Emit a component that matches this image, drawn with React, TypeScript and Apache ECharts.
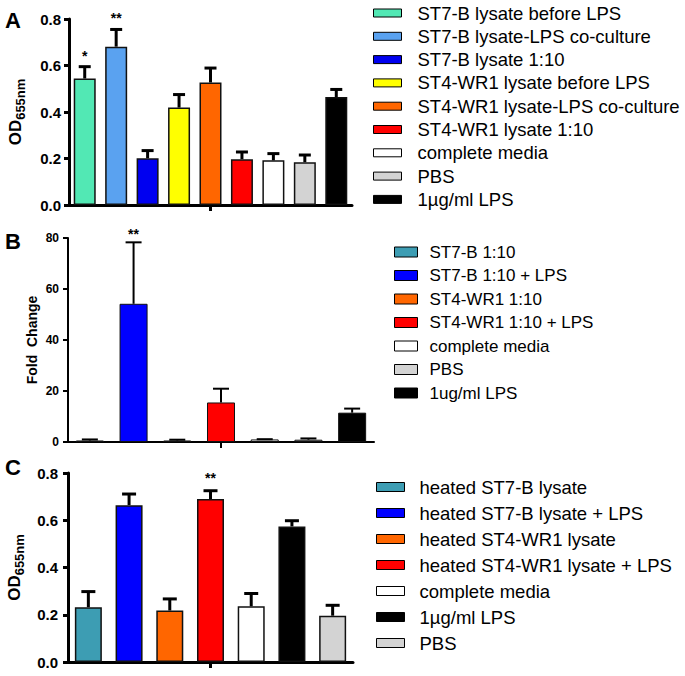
import React, { useEffect, useRef } from "react";
import * as echarts from "echarts";

const FONT = 'Arial, "Liberation Sans", Helvetica, sans-serif';

// ---------- Panel A ----------
const catsA = [
  "ST7-B lysate before LPS",
  "ST7-B lysate-LPS co-culture",
  "ST7-B lysate 1:10",
  "ST4-WR1 lysate before LPS",
  "ST4-WR1 lysate-LPS co-culture",
  "ST4-WR1 lysate 1:10",
  "complete media",
  "PBS",
  "1µg/ml LPS",
];
const meanA = [0.544, 0.681, 0.201, 0.419, 0.527, 0.197, 0.192, 0.184, 0.464];
const errA = [0.051, 0.074, 0.033, 0.056, 0.062, 0.031, 0.029, 0.031, 0.033];
const starA = ["*", "**", "", "", "", "", "", "", ""];
const colorA = ["#52e8b4", "#5aa2f0", "#0000f0", "#ffff00", "#ff6600", "#ff0000", "#ffffff", "#d3d3d3", "#000000"];
const ticksA = { min: 0, max: 0.8, interval: 0.2 };

// ---------- Panel B ----------
const catsB = [
  "ST7-B 1:10",
  "ST7-B 1:10 + LPS",
  "ST4-WR1 1:10",
  "ST4-WR1 1:10 + LPS",
  "complete media",
  "PBS",
  "1ug/ml LPS",
];
const meanB = [0.6, 54.2, 0.6, 15.5, 1.0, 0.9, 11.5];
const errB = [0.4, 24.1, 0.3, 5.4, 0.1, 0.5, 1.6];
const starB = ["", "**", "", "", "", "", ""];
const colorB = ["#3d9db3", "#0000ff", "#ff6600", "#ff0000", "#ffffff", "#cccccc", "#000000"];
const ticksB = { min: 0, max: 80, interval: 20 };

// ---------- Panel C ----------
const catsC = [
  "heated ST7-B lysate",
  "heated ST7-B lysate + LPS",
  "heated ST4-WR1 lysate",
  "heated ST4-WR1 lysate + LPS",
  "complete media",
  "1µg/ml LPS",
  "PBS",
];
const meanC = [0.232, 0.664, 0.218, 0.69, 0.236, 0.574, 0.196];
const errC = [0.066, 0.047, 0.049, 0.035, 0.054, 0.024, 0.044];
const starC = ["", "", "", "**", "", "", ""];
const colorC = ["#3d9db3", "#0000ff", "#ff6600", "#ff0000", "#ffffff", "#000000", "#d3d3d3"];
const ticksC = { min: 0, max: 0.8, interval: 0.2 };

type PanelCfg = {
  idx: number;
  letter: string;
  letterY: number;
  cats: string[];
  mean: number[];
  err: number[];
  star: string[];
  colors: string[];
  ticks: { min: number; max: number; interval: number };
  grid: { left: number; top: number; width: number; height: number };
  axisW: number;
  barW: number;
  barBorder: number;
  capW: number;
  errW: number;
  starGap: number;
  labelFont: number;
  labelWeight: string;
  labelMargin: number;
  decimals: number;
  name: string;
  nameGap: number;
  nameStyle: any;
  legend: {
    left: number;
    top: number;
    iw: number;
    ih: number;
    gap: number;
    font: number;
    pad: number;
  };
};

const odName = {
  rich: {
    a: { fontSize: 17, fontWeight: "bold", fontFamily: FONT, color: "#000", lineHeight: 24 },
    b: { fontSize: 13, fontWeight: "bold", fontFamily: FONT, color: "#000", lineHeight: 24, verticalAlign: "bottom" },
  },
};

const panels: PanelCfg[] = [
  {
    idx: 0,
    letter: "A",
    letterY: 20,
    cats: catsA,
    mean: meanA,
    err: errA,
    star: starA,
    colors: colorA,
    ticks: ticksA,
    grid: { left: 69, top: 19, width: 283, height: 186 },
    axisW: 3,
    barW: 22,
    barBorder: 1.5,
    capW: 12,
    errW: 3,
    starGap: 4,
    labelFont: 15,
    labelWeight: "bold",
    labelMargin: 8,
    decimals: 1,
    name: "{a|OD}{b|655nm}",
    nameGap: 42,
    nameStyle: odName,
    legend: { left: 373, top: 3, iw: 28, ih: 8, gap: 3.3, font: 18.5, pad: 11 },
  },
  {
    idx: 1,
    letter: "B",
    letterY: 241,
    cats: catsB,
    mean: meanB,
    err: errB,
    star: starB,
    colors: colorB,
    ticks: ticksB,
    grid: { left: 68, top: 238, width: 306, height: 204 },
    axisW: 2,
    barW: 28,
    barBorder: 1,
    capW: 16,
    errW: 2,
    starGap: 1,
    labelFont: 12,
    labelWeight: "bold",
    labelMargin: 9,
    decimals: 0,
    name: "Fold  Change",
    nameGap: 29,
    nameStyle: { fontSize: 14, fontWeight: "bold", fontFamily: FONT, color: "#000" },
    legend: { left: 394, top: 242, iw: 23, ih: 10, gap: 3.5, font: 17, pad: 7 },
  },
  {
    idx: 2,
    letter: "C",
    letterY: 467,
    cats: catsC,
    mean: meanC,
    err: errC,
    star: starC,
    colors: colorC,
    ticks: ticksC,
    grid: { left: 68, top: 473, width: 285, height: 189 },
    axisW: 3,
    barW: 27,
    barBorder: 1.5,
    capW: 14,
    errW: 3,
    starGap: 6,
    labelFont: 15,
    labelWeight: "bold",
    labelMargin: 10,
    decimals: 1,
    name: "{a|OD}{b|655nm}",
    nameGap: 42,
    nameStyle: odName,
    legend: { left: 376, top: 477, iw: 28, ih: 9, gap: 6, font: 18.5, pad: 10 },
  },
];

function buildOption() {
  const grid: any[] = [];
  const xAxis: any[] = [];
  const yAxis: any[] = [];
  const series: any[] = [];
  const legend: any[] = [];
  const graphic: any[] = [];

  panels.forEach((p) => {
    const mid = Math.floor(p.cats.length / 2);
    grid.push({ ...p.grid });
    xAxis.push({
      type: "category",
      gridIndex: p.idx,
      data: p.cats,
      boundaryGap: true,
      axisLine: { show: true, lineStyle: { color: "#000", width: p.axisW } },
      axisTick: {
        show: true,
        alignWithLabel: true,
        interval: (i: number) => i === mid,
        length: 6,
        lineStyle: { color: "#000", width: p.axisW },
      },
      axisLabel: { show: false },
      splitLine: { show: false },
    });
    yAxis.push({
      type: "value",
      gridIndex: p.idx,
      min: p.ticks.min,
      max: p.ticks.max,
      interval: p.ticks.interval,
      axisLine: { show: true, lineStyle: { color: "#000", width: p.axisW } },
      axisTick: { show: true, length: 5, lineStyle: { color: "#000", width: p.axisW } },
      splitLine: { show: false },
      axisLabel: {
        fontSize: p.labelFont,
        fontWeight: p.labelWeight,
        fontFamily: FONT,
        color: "#000",
        margin: p.labelMargin,
        formatter: (v: number) => v.toFixed(p.decimals),
      },
      name: p.name,
      nameLocation: "middle",
      nameRotate: 90,
      nameGap: p.nameGap,
      nameTextStyle: p.nameStyle,
    });
    p.cats.forEach((c, i) => {
      series.push({
        type: "bar",
        name: c,
        xAxisIndex: p.idx,
        yAxisIndex: p.idx,
        data: p.cats.map((_, j) => (j === i ? p.mean[i] : "-")),
        barWidth: p.barW,
        barGap: "-100%",
        itemStyle: { color: p.colors[i], borderColor: "#111", borderWidth: p.barBorder },
        z: 2,
      });
    });
    series.push({
      type: "custom",
      name: "err" + p.idx,
      xAxisIndex: p.idx,
      yAxisIndex: p.idx,
      z: 5,
      silent: true,
      encode: { x: 0, y: 1 },
      data: p.mean.map((m, i) => [i, m, p.err[i]]),
      renderItem: (params: any, api: any) => {
        const i = api.value(0);
        const m = api.value(1);
        const e = api.value(2);
        const p0 = api.coord([i, m]);
        const p1 = api.coord([i, m + e]);
        const children: any[] = [
          {
            type: "line",
            shape: { x1: p0[0], y1: p0[1], x2: p1[0], y2: p1[1] },
            style: { stroke: "#000", lineWidth: p.errW },
          },
          {
            type: "line",
            shape: { x1: p1[0] - p.capW / 2, y1: p1[1], x2: p1[0] + p.capW / 2, y2: p1[1] },
            style: { stroke: "#000", lineWidth: p.errW },
          },
        ];
        const s = p.star[params.dataIndex];
        if (s) {
          children.push({
            type: "text",
            x: p1[0],
            y: p1[1] - p.starGap,
            style: {
              text: s,
              fontSize: 14,
              fontWeight: "bold",
              fontFamily: FONT,
              fill: "#000",
              align: "center",
              verticalAlign: "bottom",
            },
          });
        }
        return { type: "group", children };
      },
    });
    legend.push({
      orient: "vertical",
      left: p.legend.left,
      top: p.legend.top,
      padding: 0,
      itemWidth: p.legend.iw,
      itemHeight: p.legend.ih,
      itemGap: p.legend.gap,
      selectedMode: false,
      icon: "rect",
      data: p.cats,
      itemStyle: { borderColor: "#000", borderWidth: 1 },
      textStyle: {
        fontSize: p.legend.font,
        fontFamily: FONT,
        color: "#000",
        lineHeight: 20,
        padding: [0, 0, 0, p.legend.pad],
      },
    });
    graphic.push({
      type: "text",
      x: 5,
      y: p.letterY,
      style: {
        text: p.letter,
        fontSize: 22,
        fontWeight: "bold",
        fontFamily: FONT,
        fill: "#000",
        verticalAlign: "middle",
      },
    });
  });

  return {
    animation: false,
    backgroundColor: "#fff",
    textStyle: { fontFamily: FONT },
    grid,
    xAxis,
    yAxis,
    series,
    legend,
    graphic,
  };
}

export default function App() {
  const ref = useRef<HTMLDivElement>(null);
  useEffect(() => {
    if (!ref.current) return;
    const chart = echarts.init(ref.current, undefined, { renderer: "svg" });
    chart.setOption(buildOption() as any);
    return () => chart.dispose();
  }, []);
  return (
    <div
      ref={ref}
      style={{ position: "absolute", left: 0, top: 0, width: 685, height: 676, background: "#fff" }}
    />
  );
}
